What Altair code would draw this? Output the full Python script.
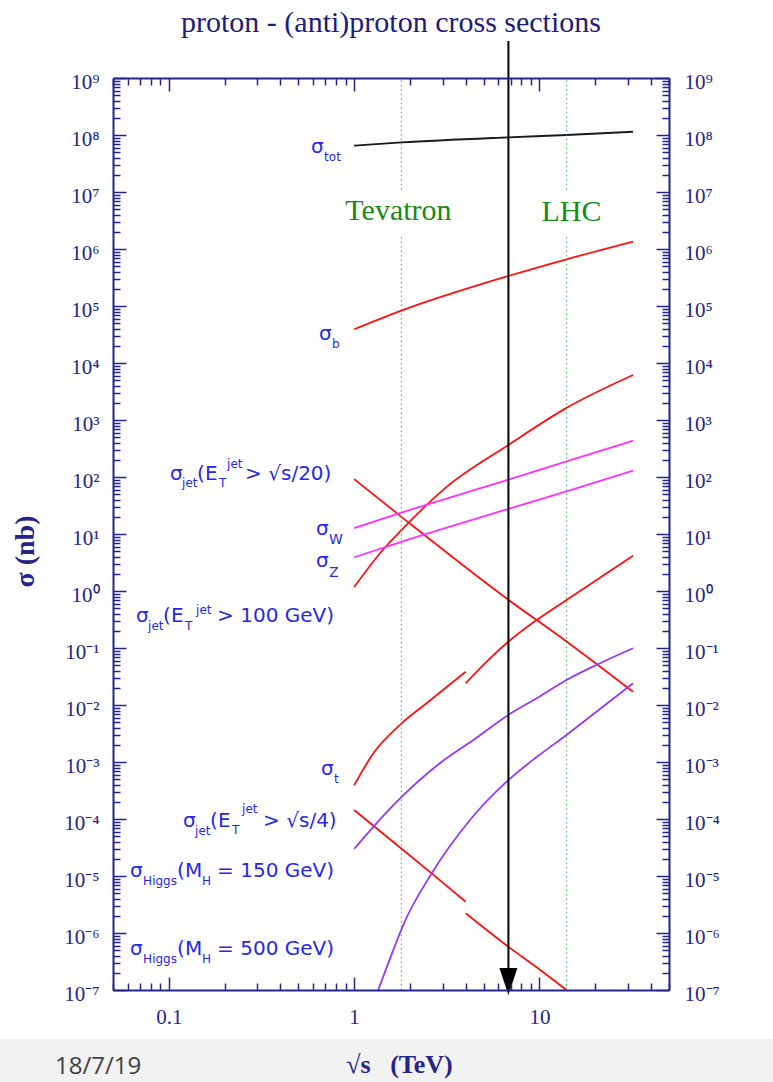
import altair as alt
import pandas as pd

# ---------------- values (sqrt(s) in TeV, sigma in nb) ----------------
tot_x = [1, 1.8, 6.8, 14, 32]
tot_y = [6.5e7, 7.4e7, 9.1e7, 1.0e8, 1.14e8]
b_x = [1, 1.8, 6.8, 14, 32]
b_y = [3.9e4, 8.3e4, 3.36e5, 6.6e5, 1.35e6]
jet20_x = [1, 1.8, 6.8, 14, 32]
jet20_y = [92, 20, 0.70, 0.13, 0.017]
jet100_x = [1, 1.38, 1.8, 3.16, 6.8, 14, 32]
jet100_y = [1.17, 4.6, 11.7, 67, 364, 1630, 6150]
w_x = [1, 1.8, 6.8, 14, 32]
w_y = [12.7, 23.7, 90, 188, 434]
z_x = [1, 1.8, 6.8, 14, 32]
z_y = [3.9, 7.3, 27.5, 56, 129]
top_ppbar_x = [1, 1.27, 1.81, 2.46, 4.0]
top_ppbar_y = [3.9e-4, 1.42e-3, 4.8e-3, 0.0107, 0.0384]
top_pp_x = [4.0, 5.19, 6.79, 9.66, 14, 32]
top_pp_y = [0.024, 0.0575, 0.129, 0.31, 0.695, 4.16]
jet4_ppbar_x = [1, 1.81, 2.62, 4.0]
jet4_ppbar_y = [1.44e-4, 2.98e-5, 1.11e-5, 3.54e-6]
jet4_pp_x = [4.0, 6.79, 10.1, 14]
jet4_pp_y = [2.22e-6, 5.75e-7, 2.25e-7, 1.0e-7]
h150_x = [1, 1.27, 1.81, 2.9, 4.4, 6.79, 9.66, 14, 21.2, 32]
h150_y = [2.98e-5, 7.3e-5, 2.46e-4, 9.5e-4, 2.43e-3, 6.7e-3, 0.0131, 0.0275, 0.054, 0.099]
h500_x = [1.35, 1.63, 1.84, 2.62, 4.22, 6.79, 9.66, 14, 21.2, 32]
h500_y = [1.0e-7, 5.1e-7, 1.38e-6, 1.11e-5, 9.6e-5, 4.8e-4, 1.22e-3, 2.98e-3, 8.5e-3, 0.024]

series_names = ["tot", "b", "jet20", "jet100", "W", "Z", "top_ppbar", "top_pp",
                "jet4_ppbar", "jet4_pp", "h150", "h500"]
series_x = [tot_x, b_x, jet20_x, jet100_x, w_x, z_x, top_ppbar_x, top_pp_x,
            jet4_ppbar_x, jet4_pp_x, h150_x, h500_x]
series_y = [tot_y, b_y, jet20_y, jet100_y, w_y, z_y, top_ppbar_y, top_pp_y,
            jet4_ppbar_y, jet4_pp_y, h150_y, h500_y]

# collider energies and the arrow
collider_names = ["Tevatron", "LHC"]
collider_x = [1.8, 14]
arrow_x = 6.8

# axis tick values
x_label_values = [0.1, 1, 10]
x_major = [0.1, 1, 10]
x_minor = [float(f"{d}e{k}") for k in (-2, -1, 0, 1) for d in range(2, 10)
           if 0.05 <= float(f"{d}e{k}") <= 50]
y_major = [float(f"1e{k}") for k in range(-7, 10)]
y_minor = [float(f"{d}e{k}") for k in range(-7, 9) for d in range(2, 10)]

# curve labels: (anchor y, [(text, font size, dx, dy), ...])
curve_labels = [
    (4.83e7, [("σ", 20, -43, 0), ("tot", 12, -30, 8)]),
    (2.54e4, [("σ", 20, -35, 0), ("b", 12, -22, 8)]),
    (88.5, [("σ", 20, -184, 0), ("jet", 12, -172, 7), ("(E", 20, -157, 0), ("T", 12, -135, 7),
            ("jet", 12, -127, -12), ("> √s/20)", 20, -109, 0)]),
    (9.6, [("σ", 20, -38, 0), ("W", 14, -25, 9)]),
    (2.64, [("σ", 20, -38, 0), ("Z", 14, -25, 10)]),
    (0.286, [("σ", 20, -218, 0), ("jet", 12, -206, 8), ("(E", 20, -191, 0), ("T", 12, -169, 8),
             ("jet", 12, -158, -8), ("> 100 GeV)", 20, -137, 0)]),
    (5.9e-4, [("σ", 20, -33, 0), ("t", 12, -20, 8)]),
    (7.2e-5, [("σ", 20, -171, 0), ("jet", 12, -159, 8), ("(E", 20, -144, 0), ("T", 12, -122, 7),
              ("jet", 12, -112, -14), ("> √s/4)", 20, -91, 0)]),
    (9.6e-6, [("σ", 20, -224, 0), ("Higgs", 12, -211, 8), ("(M", 20, -177, 0), ("H", 12, -152, 8),
              ("= 150 GeV)", 20, -137, 0)]),
    (4.1e-7, [("σ", 20, -224, 0), ("Higgs", 12, -211, 8), ("(M", 20, -177, 0), ("H", 12, -152, 8),
              ("= 500 GeV)", 20, -137, 0)]),
]

# ---------------- styles ----------------
NAVY = "#24248a"
SERIF = "Liberation Serif"
SANS = "DejaVu Sans"
LABEL_BLUE = "#2727e8"
series_color = {"tot": "#1a1a1a", "b": "#ff1010", "jet20": "#ff1010", "jet100": "#ff1010",
                "W": "#ff30ff", "Z": "#ff30ff", "top_ppbar": "#ff1010", "top_pp": "#ff1010",
                "jet4_ppbar": "#ff1010", "jet4_pp": "#ff1010", "h150": "#9238ff", "h500": "#9238ff"}
W, H = 556, 912

# ---------------- tables ----------------
rows = []
for name, xs_, ys_ in zip(series_names, series_x, series_y):
    for xv, yv in zip(xs_, ys_):
        rows.append({"x": xv, "y": yv, "series": name, "col": series_color[name]})
curves_df = pd.DataFrame(rows)

green_rows = []
for cx in collider_x:
    green_rows.append({"x": cx, "y1": 1.1e7, "y2": 1e9})
    green_rows.append({"x": cx, "y1": 1e-7, "y2": 1.7e6})
green_df = pd.DataFrame(green_rows)
green_text_df = pd.DataFrame({"x": collider_x, "y": [3.23e6, 3.1e6], "t": collider_names,
                              "dx": [-3, 5]})

lab_rows = []
for i, (ay, segs) in enumerate(curve_labels):
    for (t, fs, dx, dy) in segs:
        lab_rows.append({"x": 1.0, "y": ay, "t": t, "fs": fs, "dx": dx, "dy": dy, "lab": i})
labels_df = pd.DataFrame(lab_rows)

arrow_df = pd.DataFrame({"x": [arrow_x], "y": [1.5e-7], "y2": [4.45e9]})
tri_df = pd.DataFrame({"x": [arrow_x], "y": [1.41e-7]})

xscale = alt.Scale(type="log", domain=[0.05, 50], nice=False)
yscale = alt.Scale(type="log", domain=[1e-7, 1e9], nice=False)

SUP = ("'10' + (round(log(datum.value)/LN10) < 0 ? '\u207b' : '') + "
       "substring('\u2070\u00b9\u00b2\u00b3\u2074\u2075\u2076\u2077\u2078\u2079', "
       "abs(round(log(datum.value)/LN10)), abs(round(log(datum.value)/LN10)) + 1)")


def tick_axis(orient, offset, values, size):
    return alt.Axis(orient=orient, offset=offset, values=values, labels=False, domain=False,
                    ticks=True, tickSize=size, tickColor=NAVY, tickWidth=1.5, grid=False,
                    title=None, zindex=1)


x_label_axis = alt.Axis(orient="bottom", values=x_label_values,
                        labelExpr="datum.value < 0.5 ? '0.1' : format(datum.value, 'd')",
                        ticks=False, tickSize=0, domain=True, domainColor=NAVY, domainWidth=2,
                        labelFont=SERIF, labelFontSize=21, labelColor=NAVY, labelPadding=16,
                        labelBaseline="top", labelFlush=False, labelOverlap=False, grid=False,
                        title="√s\u00a0\u00a0\u00a0(TeV)", titleFont=SERIF, titleFontSize=26,
                        titleFontWeight="bold", titleColor=NAVY, titleX=286, titleY=82,
                        titleAlign="center", titleBaseline="alphabetic", zindex=2)
y_left_axis = alt.Axis(orient="left", values=y_major, labelExpr=SUP, ticks=False, tickSize=0,
                       domain=True, domainColor=NAVY, domainWidth=2, labelFont=SERIF,
                       labelFontSize=21, labelColor=NAVY, labelPadding=14, labelOffset=4,
                       labelBaseline="middle", labelOverlap=False, labelFlush=False, grid=False,
                       title="σ (nb)", titleFont=SERIF, titleFontSize=28, titleFontWeight="bold",
                       titleColor=NAVY, titleAngle=270, titleX=-80, titleY=473,
                       titleAlign="center", titleBaseline="alphabetic", zindex=2)
x_top_axis = alt.Axis(orient="top", labels=False, ticks=False, tickSize=0, domain=True,
                      domainColor=NAVY, domainWidth=2, grid=False, title=None, zindex=2)
y_right_axis = alt.Axis(orient="right", values=y_major, labelExpr=SUP, ticks=False, tickSize=0,
                        domain=True, domainColor=NAVY, domainWidth=2, labelFont=SERIF,
                        labelFontSize=21, labelColor=NAVY, labelPadding=15, labelOffset=4,
                        labelBaseline="middle", labelOverlap=False, labelFlush=False, grid=False,
                        title=None, zindex=2)

band = alt.Chart(pd.DataFrame({"a": [0]})).mark_rect(color="#f2f2f2").encode(
    x=alt.value(-113), x2=alt.value(660), y=alt.value(961), y2=alt.value(1004))

curves = alt.Chart(curves_df).mark_line(strokeWidth=1.8, interpolate="monotone").encode(
    x=alt.X("x:Q", scale=xscale, axis=x_label_axis),
    y=alt.Y("y:Q", scale=yscale, axis=y_left_axis),
    detail="series:N",
    color=alt.Color("col:N", scale=None),
)

greens = alt.Chart(green_df).mark_rule(color="#3aa53a", strokeWidth=1.2, strokeDash=[1.5, 3],
                                       opacity=0.8).encode(
    x=alt.X("x:Q", scale=xscale, axis=x_top_axis),
    y=alt.Y("y1:Q", scale=yscale, axis=y_right_axis),
    y2="y2:Q",
)

green_text = alt.Chart(green_text_df).mark_text(
    font=SERIF, fontSize=30, color="#178a17", align="center", baseline="alphabetic",
    dx=alt.ExprRef(expr="datum.dx")).encode(
    x=alt.X("x:Q", scale=xscale, axis=tick_axis("top", -H, x_major, 13)),
    y=alt.Y("y:Q", scale=yscale, axis=tick_axis("right", -W, y_major, 13)),
    text="t:N",
)

labels = alt.Chart(labels_df).mark_text(
    font=SANS, color=LABEL_BLUE, align="left", baseline="alphabetic",
    dx=alt.ExprRef(expr="datum.dx"), dy=alt.ExprRef(expr="datum.dy")).encode(
    x=alt.X("x:Q", scale=xscale, axis=tick_axis("top", -H, x_minor, 7)),
    y=alt.Y("y:Q", scale=yscale, axis=tick_axis("right", -W, y_minor, 7)),
    text="t:N",
    size=alt.Size("fs:Q", scale=None, legend=None),
)

arrow = alt.Chart(arrow_df).mark_rule(color="black", strokeWidth=2).encode(
    x=alt.X("x:Q", scale=xscale, axis=tick_axis("bottom", -H, x_major, 13)),
    y=alt.Y("y:Q", scale=yscale, axis=tick_axis("left", -W, y_major, 13)),
    y2="y2:Q",
)

tri = alt.Chart(tri_df).mark_point(shape="M-1,-1.5L1,-1.5L0,1.5Z", size=324, filled=True,
                                   color="black", opacity=1).encode(
    x=alt.X("x:Q", scale=xscale, axis=tick_axis("bottom", -H, x_minor, 7)),
    y=alt.Y("y:Q", scale=yscale, axis=tick_axis("left", -W, y_minor, 7)),
)

title = alt.Chart(pd.DataFrame({"t": ["proton - (anti)proton cross sections"]})).mark_text(
    font=SERIF, fontSize=30, color="#1c1c7a", align="center", baseline="alphabetic").encode(
    x=alt.value(278), y=alt.value(-46), text="t:N")

footer = alt.Chart(pd.DataFrame({"t": ["18/7/19"]})).mark_text(
    font="Open Sans", fontSize=24, color="#404040", align="left", baseline="alphabetic").encode(
    x=alt.value(-58), y=alt.value(996), text="t:N")

chart = alt.layer(band, curves, greens, green_text, labels, arrow, tri, title, footer).resolve_axis(
    x="independent", y="independent"
).properties(
    width=W, height=H,
    autosize=alt.AutoSizeParams(type="none"),
    padding={"left": 113, "top": 78, "right": 104, "bottom": 92},
).configure_view(stroke=None)

chart.save("out.html", embed_options={"renderer": "svg", "actions": False})
